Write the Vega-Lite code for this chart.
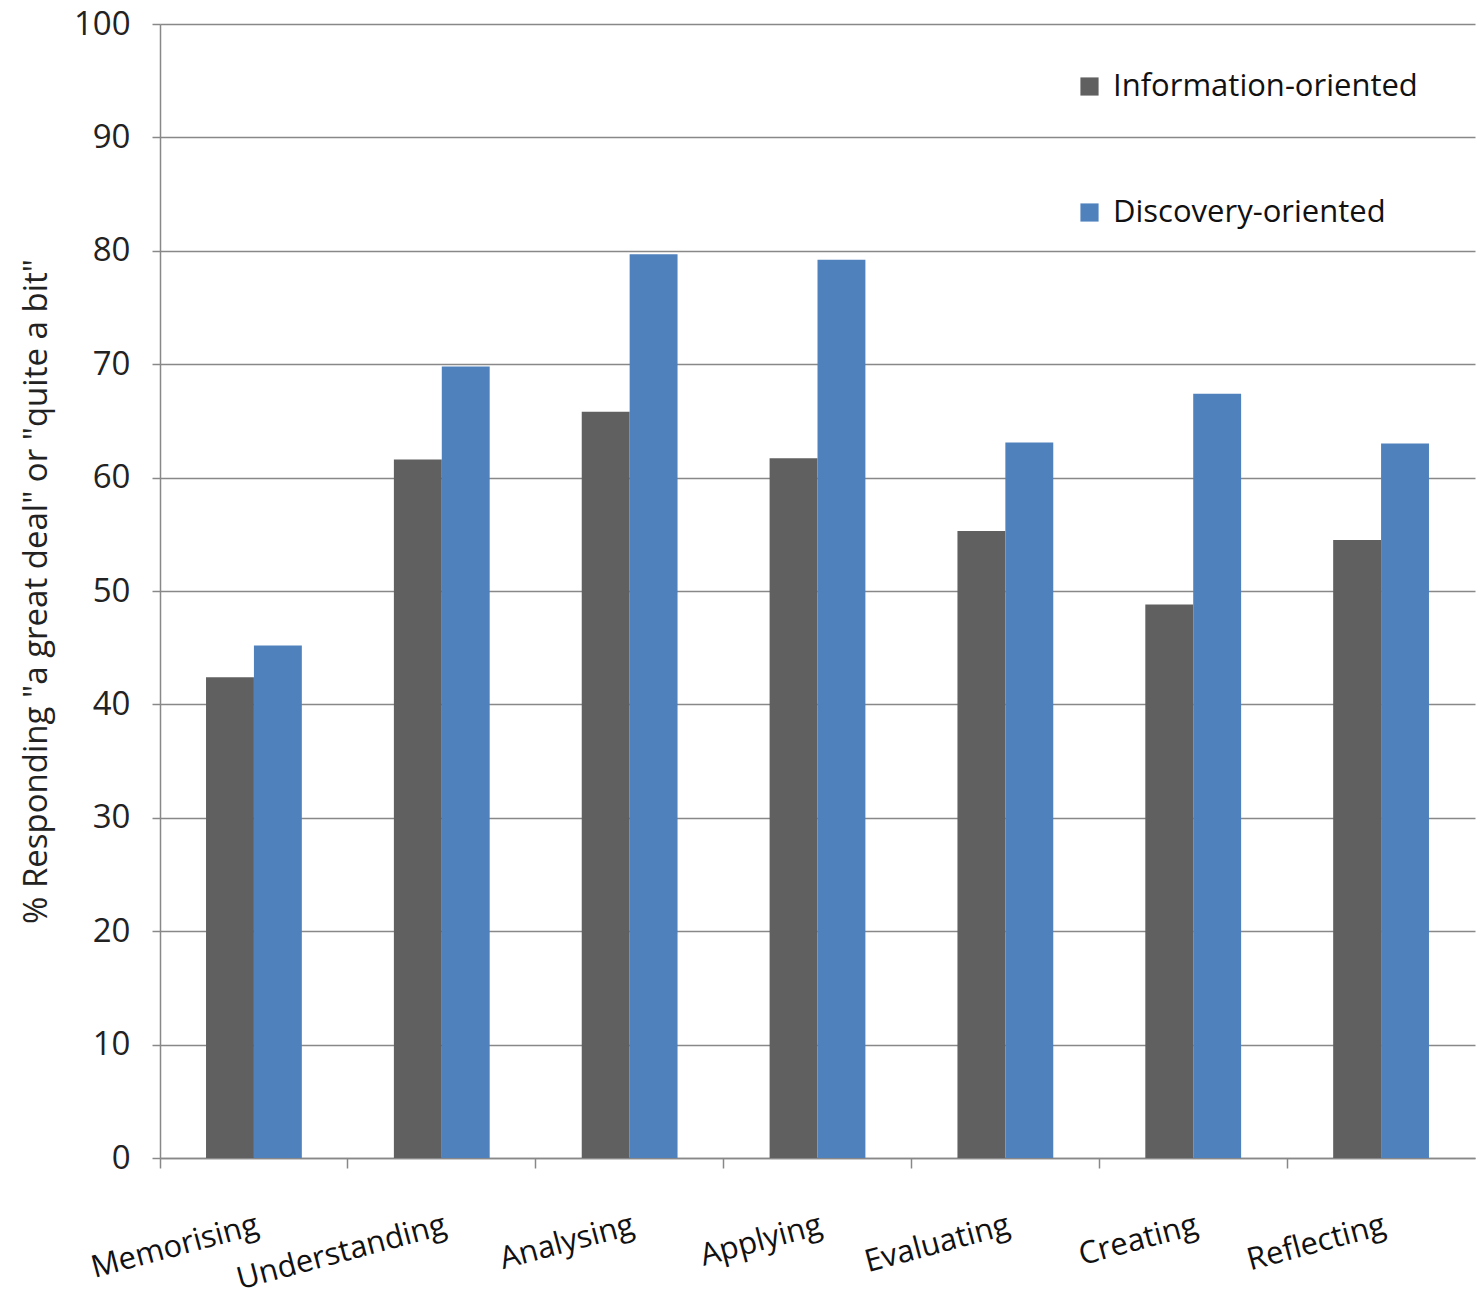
{
  "$schema": "https://vega.github.io/schema/vega-lite/v6.json",
  "width": 1315,
  "height": 1134,
  "autosize": {"type": "none"},
  "padding": {"left": 160, "top": 24, "right": 5, "bottom": 145},
  "background": "white",
  "config": {
    "font": "Open Sans",
    "view": {"stroke": null},
    "axis": {"labelFont": "Open Sans", "titleFont": "Open Sans", "labelColor": "#222", "titleColor": "#222"}
  },
  "data": {
    "values": [
      {"skill": "Memorising", "type": "Information-oriented", "pct": 42.4},
      {"skill": "Memorising", "type": "Discovery-oriented", "pct": 45.2},
      {"skill": "Understanding", "type": "Information-oriented", "pct": 61.6},
      {"skill": "Understanding", "type": "Discovery-oriented", "pct": 69.8},
      {"skill": "Analysing", "type": "Information-oriented", "pct": 65.8},
      {"skill": "Analysing", "type": "Discovery-oriented", "pct": 79.7},
      {"skill": "Applying", "type": "Information-oriented", "pct": 61.7},
      {"skill": "Applying", "type": "Discovery-oriented", "pct": 79.2},
      {"skill": "Evaluating", "type": "Information-oriented", "pct": 55.3},
      {"skill": "Evaluating", "type": "Discovery-oriented", "pct": 63.1},
      {"skill": "Creating", "type": "Information-oriented", "pct": 48.8},
      {"skill": "Creating", "type": "Discovery-oriented", "pct": 67.4},
      {"skill": "Reflecting", "type": "Information-oriented", "pct": 54.5},
      {"skill": "Reflecting", "type": "Discovery-oriented", "pct": 63.0}
    ]
  },
  "mark": {"type": "bar"},
  "encoding": {
    "x": {
      "field": "skill",
      "type": "nominal",
      "sort": ["Memorising", "Understanding", "Analysing", "Applying", "Evaluating", "Creating", "Reflecting"],
      "scale": {"paddingInner": 0.49, "paddingOuter": 0.245},
      "axis": {
        "title": null,
        "bandPosition": -0.48,
        "domainColor": "#888",
        "domainWidth": 1.5,
        "tickColor": "#888",
        "tickWidth": 1.5,
        "tickSize": 10,
        "labelAngle": -15,
        "labelAlign": "right",
        "labelBaseline": "top",
        "labelFontSize": 31,
        "labelPadding": 42,
        "labelLimit": 500,
        "labelColor": "#111"
      }
    },
    "xOffset": {
      "field": "type",
      "type": "nominal",
      "sort": ["Information-oriented", "Discovery-oriented"]
    },
    "y": {
      "field": "pct",
      "type": "quantitative",
      "scale": {"domain": [0, 100], "nice": false},
      "axis": {
        "title": "% Responding \"a great deal\" or \"quite a bit\"",
        "titleFontSize": 33,
        "titleFontWeight": "normal",
        "titlePadding": 20,
        "values": [0, 10, 20, 30, 40, 50, 60, 70, 80, 90, 100],
        "labelFontSize": 33,
        "labelPadding": 22,
        "tickSize": 8,
        "tickColor": "#888",
        "tickWidth": 1.5,
        "domainColor": "#888",
        "domainWidth": 1.5,
        "gridColor": "#888",
        "gridWidth": 1.5,
        "grid": true
      }
    },
    "color": {
      "field": "type",
      "type": "nominal",
      "sort": ["Information-oriented", "Discovery-oriented"],
      "scale": {"domain": ["Information-oriented", "Discovery-oriented"], "range": ["#606060", "#4f81bd"]},
      "legend": {
        "title": null,
        "orient": "none",
        "legendX": 914,
        "legendY": 47,
        "symbolType": "square",
        "symbolSize": 330,
        "symbolStrokeWidth": 0,
        "labelFontSize": 31,
        "labelColor": "#111",
        "labelOffset": 8,
        "rowPadding": 94,
        "labelLimit": 500
      }
    }
  }
}
